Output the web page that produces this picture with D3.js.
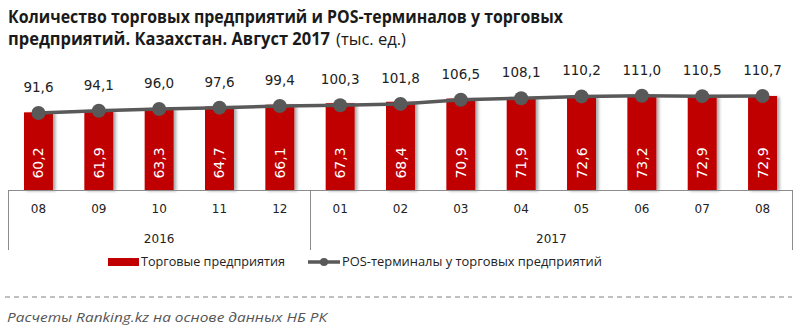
<!DOCTYPE html>
<html><head><meta charset="utf-8">
<script src="https://cdn.jsdelivr.net/npm/d3@7"></script>
<style>body{margin:0;background:#fff}svg{display:block}</style>
</head><body>
<svg id="c" width="800" height="336"></svg>
<script>
const months = ["08","09","10","11","12","01","02","03","04","05","06","07","08"];
const years = [{label:"2016", from:0, to:5},{label:"2017", from:5, to:13}];
const enterprises = [60.2,61.9,63.3,64.7,66.1,67.3,68.4,70.9,71.9,72.6,73.2,72.9,72.9];
const terminals = [91.6,94.1,96.0,97.6,99.4,100.3,101.8,106.5,108.1,110.2,111.0,110.5,110.7];
const titleLines = ["Количество торговых предприятий и POS-терминалов у торговых","предприятий. Казахстан. Август 2017"];
const titleUnit = "(тыс. ед.)";
const legendBar = "Торговые предприятия";
const legendLine = "POS-терминалы у торговых предприятий";
const source = "Расчеты Ranking.kz на основе данных НБ РК";

const fmt = v => d3.format(".1f")(v).replace(".", ",");
const svg = d3.select("#c");
const idx = d3.range(months.length);
const x = d3.scaleBand().domain(idx).range([8.3, 792.7]).paddingInner(0.52).paddingOuter(0.26);
const yBar = d3.scaleLinear().domain([0,100]).range([190,61]);
const yLine = d3.scaleLinear().domain([0,200]).range([194.5,16.5]);

const defs = svg.append("defs");
const f = defs.append("filter").attr("id","sh").attr("x","-20%").attr("y","-10%").attr("width","160%").attr("height","130%");
f.append("feDropShadow").attr("dx",2.5).attr("dy",1).attr("stdDeviation",1.5).attr("flood-color","#000").attr("flood-opacity",0.35);

// title
const tf = "'Open Sans', sans-serif";
svg.append("text").attr("x",8).attr("y",23).attr("font-family",tf).attr("font-weight","bold").attr("font-size",17)
  .attr("fill","#1a1a1a").attr("textLength",555).attr("lengthAdjust","spacingAndGlyphs").text(titleLines[0]);
svg.append("text").attr("x",8).attr("y",45).attr("font-family",tf).attr("font-weight","bold").attr("font-size",17)
  .attr("fill","#1a1a1a").attr("textLength",322).attr("lengthAdjust","spacingAndGlyphs").text(titleLines[1]);
svg.append("text").attr("x",336).attr("y",45).attr("font-family",tf).attr("font-size",17)
  .attr("fill","#1a1a1a").attr("textLength",70).attr("lengthAdjust","spacingAndGlyphs").text(titleUnit);

// bars
svg.append("g").selectAll("rect").data(enterprises).join("rect")
  .attr("x",(d,i)=>x(i)).attr("width",x.bandwidth())
  .attr("y",d=>yBar(d)).attr("height",d=>yBar(0)-yBar(d))
  .attr("fill","#c00000").attr("filter","url(#sh)");

// axis box
const ax = svg.append("g").attr("stroke","#8c8c8c").attr("stroke-width",1).attr("fill","none");
const edge = i => x.range()[0] + i*x.step();
ax.append("line").attr("x1",edge(0)).attr("x2",edge(months.length)).attr("y1",yBar(0)+0.5).attr("y2",yBar(0)+0.5);
years.forEach(yy=>{
  ax.append("line").attr("x1",Math.round(edge(yy.from))+0.5).attr("x2",Math.round(edge(yy.from))+0.5).attr("y1",yBar(0)).attr("y2",250);
});
ax.append("line").attr("x1",Math.round(edge(months.length))-0.5).attr("x2",Math.round(edge(months.length))-0.5).attr("y1",yBar(0)).attr("y2",250);

const af = "'DejaVu Sans', sans-serif";
svg.append("g").selectAll("text").data(months).join("text")
  .attr("x",(d,i)=>x(i)+x.bandwidth()/2).attr("y",213).attr("text-anchor","middle")
  .attr("font-family",af).attr("font-size",12).attr("fill","#222").text(d=>d);
svg.append("g").selectAll("text").data(years).join("text")
  .attr("x",d=>(edge(d.from)+edge(d.to))/2).attr("y",243).attr("text-anchor","middle")
  .attr("font-family",af).attr("font-size",12).attr("fill","#222").text(d=>d.label);

// bar labels
svg.append("g").selectAll("text").data(enterprises).join("text")
  .attr("transform",(d,i)=>`translate(${x(i)+x.bandwidth()/2+5},${yBar(0)-27}) rotate(-90)`)
  .attr("text-anchor","middle").attr("font-family",af).attr("font-size",14).attr("fill","#fff").text(d=>fmt(d));

// line
const line = d3.line().x((d,i)=>x(i)+x.bandwidth()/2).y(d=>yLine(d));
svg.append("path").datum(terminals).attr("d",line).attr("fill","none").attr("stroke","#595959").attr("stroke-width",3.5);
svg.append("g").selectAll("circle").data(terminals).join("circle")
  .attr("cx",(d,i)=>x(i)+x.bandwidth()/2).attr("cy",d=>yLine(d)).attr("r",7).attr("fill","#595959");
svg.append("g").selectAll("text").data(terminals).join("text")
  .attr("x",(d,i)=>x(i)+x.bandwidth()/2).attr("y",d=>yLine(d)-21).attr("text-anchor","middle")
  .attr("font-family",af).attr("font-size",13.5).attr("fill","#222").text(d=>fmt(d));

// legend
const lg = svg.append("g");
lg.append("rect").attr("x",108).attr("y",258).attr("width",31).attr("height",8).attr("fill","#c00000");
lg.append("text").attr("x",141).attr("y",266).attr("font-family",tf).attr("font-size",13.5).attr("fill","#222")
  .attr("textLength",144).attr("lengthAdjust","spacingAndGlyphs").text(legendBar);
lg.append("line").attr("x1",308).attr("x2",340).attr("y1",262).attr("y2",262).attr("stroke","#595959").attr("stroke-width",3.5);
lg.append("circle").attr("cx",324).attr("cy",262).attr("r",4).attr("fill","#595959");
lg.append("text").attr("x",342).attr("y",266).attr("font-family",tf).attr("font-size",13.5).attr("fill","#222")
  .attr("textLength",260).attr("lengthAdjust","spacingAndGlyphs").text(legendLine);

// footer
svg.append("line").attr("x1",5).attr("x2",792).attr("y1",297).attr("y2",297)
  .attr("stroke","#808080").attr("stroke-width",1).attr("stroke-dasharray","5,4");
svg.append("text").attr("x",7).attr("y",322).attr("font-family",tf).attr("font-style","italic").attr("font-size",13.5)
  .attr("fill","#555").attr("textLength",320).attr("lengthAdjust","spacingAndGlyphs").text(source);
</script>
</body></html>
